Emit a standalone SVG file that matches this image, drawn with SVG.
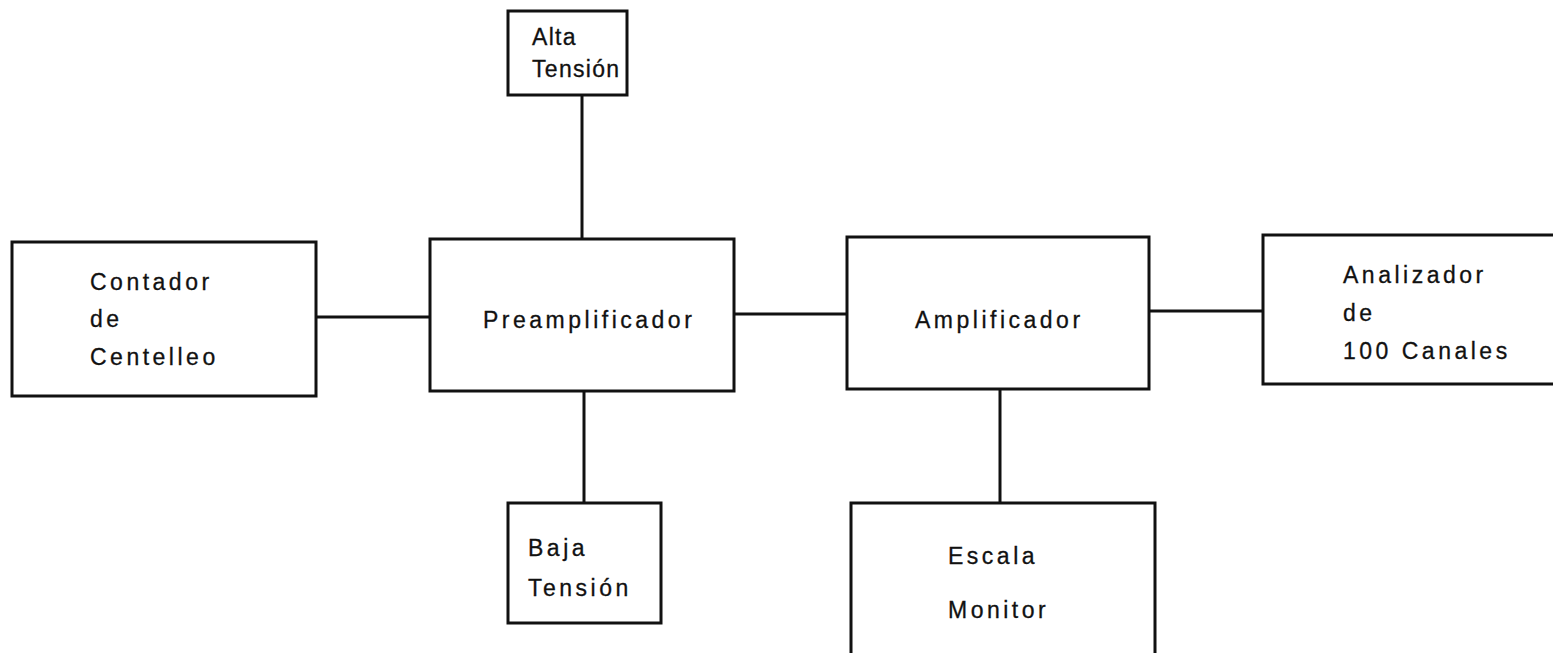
<svg xmlns="http://www.w3.org/2000/svg" width="1553" height="653" viewBox="0 0 1553 653">
<style>
.box{fill:none;stroke:#111;stroke-width:3}
.ln{stroke:#111;stroke-width:3;fill:none}
text{font-family:"Liberation Sans",Arial,sans-serif;font-size:23px;letter-spacing:3.5px;fill:#111;stroke:#111;stroke-width:0.3}
.tight{letter-spacing:1.3px}
</style>
<rect width="1553" height="653" fill="#fff"/>
<g id="connectors">
<line class="ln" x1="582" y1="95" x2="582" y2="239"/>
<line class="ln" x1="316" y1="317" x2="430" y2="317"/>
<line class="ln" x1="734" y1="314" x2="847" y2="314"/>
<line class="ln" x1="1149" y1="311" x2="1263" y2="311"/>
<line class="ln" x1="584" y1="391" x2="584" y2="503"/>
<line class="ln" x1="1000" y1="389" x2="1000" y2="503"/>
</g>
<g id="alta">
<rect class="box" x="508" y="11" width="119" height="84"/>
<text class="tight" x="532" y="45">Alta</text>
<text class="tight" x="532" y="77">Tensión</text>
</g>
<g id="contador">
<rect class="box" x="12" y="242" width="304" height="154"/>
<text x="90" y="290">Contador</text>
<text x="90" y="327">de</text>
<text x="90" y="365">Centelleo</text>
</g>
<g id="preamp">
<rect class="box" x="430" y="239" width="304" height="152"/>
<text x="483" y="328">Preamplificador</text>
</g>
<g id="amp">
<rect class="box" x="847" y="237" width="302" height="152"/>
<text x="915" y="328">Amplificador</text>
</g>
<g id="analizador">
<rect class="box" x="1263" y="235" width="310" height="149"/>
<text x="1343" y="283">Analizador</text>
<text x="1343" y="321">de</text>
<text x="1343" y="359">100 Canales</text>
</g>
<g id="baja">
<rect class="box" x="508" y="503" width="153" height="120"/>
<text x="528" y="556">Baja</text>
<text x="528" y="596">Tensión</text>
</g>
<g id="escala">
<rect class="box" x="851" y="503" width="304" height="170"/>
<text x="948" y="564">Escala</text>
<text x="948" y="618">Monitor</text>
</g>
</svg>
